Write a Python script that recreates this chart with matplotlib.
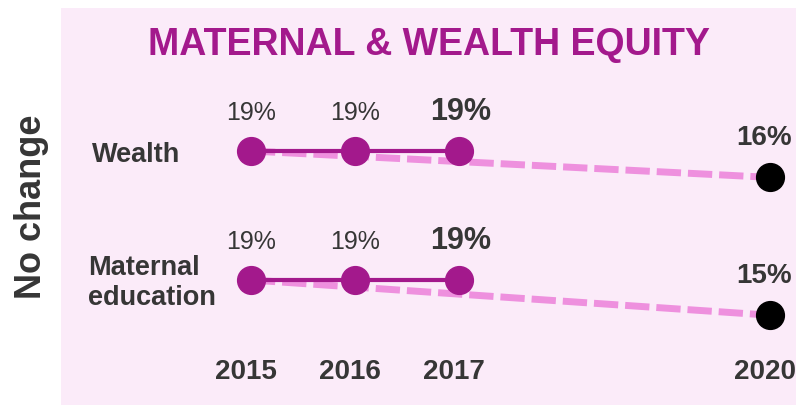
import matplotlib
matplotlib.use("Agg")
import matplotlib.pyplot as plt

plt.rcParams["font.family"] = ["Liberation Sans", "DejaVu Sans"]

# data
years = [2015, 2016, 2017]
target_year = 2020
indicators = ["Wealth", "Maternal\neducation"]
wealth_values = [19, 19, 19]
wealth_target = 16
maternal_values = [19, 19, 19]
maternal_target = 15
title = "MATERNAL & WEALTH EQUITY"
side_label = "No change"

# colours
BG = "#FBEBF9"
MAGENTA = "#A3198C"
PINK_DASH = "#EE90DE"
TEXT = "#363636"

W_PX, H_PX = 796, 406
ROW_SHIFT = 14.66  # vertical gap between the two rows, in value units

fig = plt.figure(figsize=(W_PX / 100, H_PX / 100), dpi=100)
fig.patch.set_facecolor("white")

ax = fig.add_axes([61 / W_PX, 0, 735 / W_PX, 397 / H_PX])
ax.set_facecolor(BG)
for s in ax.spines.values():
    s.set_visible(False)
ax.set_xticks([])
ax.set_yticks([])

# x: 1 year ~ 103.8 px, 2015 at px 251; y: 1 pt ~ 8.8 px
px_year = 103.8
ax.set_xlim(2015 - (251 - 61) / px_year, 2015 + (796 - 251) / px_year)
px_pt = 8.8
y_top = 19 + (152 - 9) / px_pt
ax.set_ylim(y_top - 397 / px_pt, y_top)

rows = [
    (wealth_values, wealth_target, 0.0),
    (maternal_values, maternal_target, ROW_SHIFT),
]

for vals, tgt, shift in rows:
    ys = [v - shift for v in vals]
    # dashed projection from first year to target
    ax.plot([years[0], target_year], [ys[0], tgt - shift], color=PINK_DASH,
            lw=5, ls=(0, (3.5, 1.0)), zorder=1, solid_capstyle="butt")
    ax.plot(years, ys, color=MAGENTA, lw=3, zorder=2)
    ax.plot(years, ys, "o", color=MAGENTA, ms=20, zorder=3)
    ax.plot([target_year], [tgt - shift], "o", color="black", ms=20, zorder=3)
    for i, (yr, v) in enumerate(zip(years, vals)):
        last = i == len(years) - 1
        ax.annotate(f"{v}%", (yr, v - shift), xytext=(2 if last else 0, 32),
                    textcoords="offset pixels", ha="center", va="baseline",
                    fontsize=22 if last else 18,
                    fontweight="bold" if last else "normal", color=TEXT)
    ax.annotate(f"{tgt}%", (target_year, tgt - shift), xytext=(-6, 33),
                textcoords="offset pixels", ha="center", va="baseline",
                fontsize=20, fontweight="bold", color=TEXT)

for yr in years + [target_year]:
    ax.annotate(str(yr), xy=(yr, 0), xycoords=("data", "axes fraction"),
                xytext=(-5, 27), textcoords="offset pixels", ha="center",
                va="baseline", fontsize=20, fontweight="bold", color=TEXT)


def fx(x):
    return x / W_PX


def fy(y):
    return 1 - y / H_PX


fig.text(fx(428.5), fy(55), title, ha="center", va="baseline", fontsize=27,
         fontweight="bold", color=MAGENTA)

fig.text(fx(92), fy(161.7), indicators[0], ha="left", va="baseline",
         fontsize=19.5, fontweight="bold", color=TEXT)
for j, line in enumerate(indicators[1].split("\n")):
    fig.text(fx(88), fy(275 + 30 * j), line, ha="left", va="baseline",
             fontsize=19.5, fontweight="bold", color=TEXT)

fig.text(fx(41), fy(206.5), side_label, rotation=90, rotation_mode="anchor",
         ha="center", va="baseline", fontsize=26, fontweight="bold", color=TEXT)

fig.savefig("out.png", dpi=100, facecolor=fig.get_facecolor())
